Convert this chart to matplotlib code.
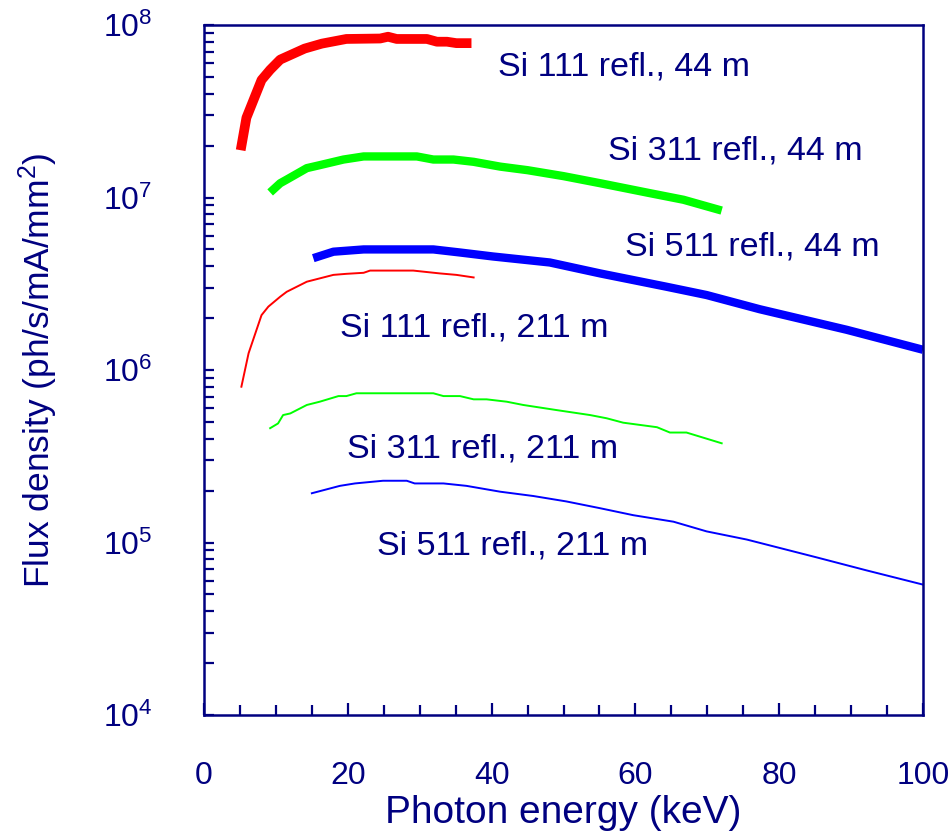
import numpy as np
import matplotlib
matplotlib.use("Agg")
import matplotlib.pyplot as plt
from matplotlib.ticker import FixedLocator, NullFormatter, LogLocator

plt.rcParams['font.family'] = ['Liberation Sans', 'DejaVu Sans']
plt.rcParams['mathtext.fontset'] = 'custom'
plt.rcParams['mathtext.rm'] = 'Liberation Sans'

NAVY = '#000080'

# Si 111, 44 m (thick red)
e111_44 = [5.1, 5.9, 8.0, 9.2, 10.6, 14.0, 16.4, 19.8, 24.5, 25.6, 26.8, 31.0, 32.4, 33.8, 35.1, 37.2]
f111_44 = [1.88e7, 2.9e7, 4.8e7, 5.5e7, 6.3e7, 7.3e7, 7.8e7, 8.3e7, 8.35e7, 8.55e7, 8.3e7, 8.3e7, 8.0e7, 8.0e7, 7.85e7, 7.85e7]

# Si 311, 44 m (thick green)
e311_44 = [9.2, 10.6, 11.5, 14.3, 16.1, 19.4, 22.2, 29.6, 31.9, 34.7, 37.5, 41.2, 45.0, 50.0, 55.1, 62.0, 66.7, 72.0]
f311_44 = [1.07e7, 1.21e7, 1.27e7, 1.48e7, 1.54e7, 1.66e7, 1.73e7, 1.73e7, 1.66e7, 1.66e7, 1.61e7, 1.51e7, 1.44e7, 1.33e7, 1.21e7, 1.06e7, 9.7e6, 8.4e6]

# Si 511, 44 m (thick blue)
e511_44 = [15.2, 18.0, 22.2, 31.9, 35.6, 40.2, 48.1, 55.1, 64.3, 69.9, 77.3, 89.4, 100.0]
f511_44 = [4.45e6, 4.85e6, 5.0e6, 5.0e6, 4.8e6, 4.55e6, 4.2e6, 3.63e6, 3.04e6, 2.72e6, 2.25e6, 1.71e6, 1.31e6]

# Si 111, 211 m (thin red)
e111_211 = [5.2, 6.2, 8.0, 8.95, 10.6, 11.5, 14.3, 18.0, 19.8, 22.2, 23.1, 29.1, 32.8, 35.1, 37.5]
f111_211 = [8.0e5, 1.25e6, 2.08e6, 2.33e6, 2.66e6, 2.84e6, 3.25e6, 3.56e6, 3.61e6, 3.66e6, 3.77e6, 3.77e6, 3.63e6, 3.56e6, 3.44e6]

# Si 311, 211 m (thin green)
e311_211 = [9.2, 10.3, 11.0, 12.0, 14.3, 16.1, 18.7, 19.8, 21.2, 31.9, 33.3, 35.6, 37.5, 39.3, 42.1, 44.4, 49.0, 53.7, 56.0, 58.3, 63.0, 64.8, 67.1, 72.0]
f311_211 = [4.6e5, 4.9e5, 5.48e5, 5.6e5, 6.27e5, 6.55e5, 7.06e5, 7.06e5, 7.33e5, 7.33e5, 7.06e5, 7.06e5, 6.76e5, 6.76e5, 6.55e5, 6.27e5, 5.86e5, 5.48e5, 5.25e5, 4.95e5, 4.66e5, 4.34e5, 4.34e5, 3.76e5]

# Si 511, 211 m (thin blue)
e511_211 = [15.0, 18.9, 21.0, 24.9, 28.2, 29.3, 33.3, 36.5, 41.2, 45.8, 50.4, 55.1, 59.7, 65.3, 69.9, 75.5, 85.2, 92.1, 100.0]
f511_211 = [1.93e5, 2.13e5, 2.2e5, 2.28e5, 2.28e5, 2.2e5, 2.2e5, 2.13e5, 1.97e5, 1.86e5, 1.73e5, 1.58e5, 1.44e5, 1.32e5, 1.16e5, 1.04e5, 8.2e4, 6.9e4, 5.7e4]

labels = ["Si 111 refl., 44 m", "Si 311 refl., 44 m", "Si 511 refl., 44 m",
          "Si 111 refl., 211 m", "Si 311 refl., 211 m", "Si 511 refl., 211 m"]
label_x = [40.9, 56.2, 58.6, 18.9, 19.9, 24.0]
label_y = [5.13e7, 1.65e7, 4.64e6, 1.56e6, 3.13e5, 8.47e4]

x_ticks = [0, 20, 40, 60, 80, 100]
y_ticks = [1e4, 1e5, 1e6, 1e7, 1e8]
y_ticklabels = [r'$\mathregular{10^{4}}$', r'$\mathregular{10^{5}}$', r'$\mathregular{10^{6}}$',
                r'$\mathregular{10^{7}}$', r'$\mathregular{10^{8}}$']

fig = plt.figure(figsize=(9.51, 8.34), dpi=100)
ax = fig.add_axes([204/951, 1-715/834, (923-204)/951, (715-25)/834])

ax.plot(e111_44, f111_44, color='#ff0000', lw=7.0, solid_capstyle='butt', solid_joinstyle='round')
ax.plot(e311_44, f311_44, color='#00ff00', lw=6.0, solid_capstyle='butt', solid_joinstyle='round')
ax.plot(e511_44, f511_44, color='#0000ff', lw=6.0, solid_capstyle='butt', solid_joinstyle='round')
ax.plot(e111_211, f111_211, color='#ff0000', lw=1.4)
ax.plot(e311_211, f311_211, color='#00ff00', lw=1.4)
ax.plot(e511_211, f511_211, color='#0000ff', lw=1.4)

for s, x, y in zip(labels, label_x, label_y):
    ax.text(x, y, s, color=NAVY, fontsize=24.5, ha='left', va='baseline')

ax.set_yscale('log')
ax.set_xlim(0, 100)
ax.set_ylim(1e4, 1e8)

ax.set_xticks(x_ticks)
ax.set_xticklabels([str(v) for v in x_ticks])
ax.xaxis.set_minor_locator(FixedLocator([v for v in range(5, 100, 5) if v % 20 != 0]))
ax.set_yticks(y_ticks)
ax.set_yticklabels(y_ticklabels)
ax.yaxis.set_minor_locator(LogLocator(base=10, subs=np.arange(2, 10)))
ax.yaxis.set_minor_formatter(NullFormatter())

ax.tick_params(axis='x', which='major', direction='in', length=9, width=1.6, color=NAVY,
               labelcolor=NAVY, labelsize=23, pad=33)
ax.tick_params(axis='x', which='minor', direction='in', length=7, width=1.6, color=NAVY)
ax.tick_params(axis='y', which='major', direction='in', length=7, width=1.6, color=NAVY,
               labelcolor=NAVY, labelsize=23, pad=37)
ax.tick_params(axis='y', which='minor', direction='in', length=7, width=1.6, color=NAVY)

for sp in ax.spines.values():
    sp.set_color(NAVY)
    sp.set_linewidth(1.8)

ax.set_xlabel('Photon energy (keV)', color=NAVY, fontsize=28, labelpad=3)
ax.set_ylabel(r'Flux density (ph/s/mA/mm$\mathregular{^2}$)', color=NAVY, fontsize=25.5, labelpad=31)

fig.savefig('out.png', dpi=100)
